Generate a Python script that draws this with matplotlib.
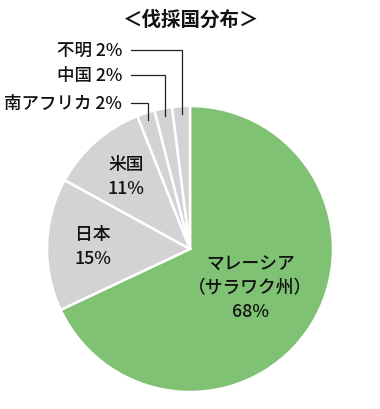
import numpy as np
import matplotlib
matplotlib.use('Agg')
import matplotlib.pyplot as plt

plt.rcParams['font.family'] = ['Noto Sans CJK JP', 'DejaVu Sans']

labels = ['マレーシア\n（サラワク州）', '日本', '米国', '南アフリカ', '中国', '不明']
shares = [68, 15, 11, 2, 2, 2]
colors = ['#80C273', '#D3D3D3', '#D3D3D3', '#D3D3D3', '#D3D3D3', '#D3D3D3']

W, H = 380, 410
cx, cy, r = 190, H - 250, 143

fig = plt.figure(figsize=(W / 100, H / 100), dpi=100)
ax = fig.add_axes([0, 0, 1, 1])
wedges, _ = ax.pie(shares, colors=colors, startangle=90, counterclock=False,
                   center=(cx, cy), radius=r,
                   wedgeprops=dict(edgecolor='white', linewidth=1.8))
ax.set_xlim(0, W)
ax.set_ylim(0, H)
ax.set_aspect('equal')
ax.axis('off')

fs = 12.8
# labels inside big slices
inside = {0: 0.50, 1: 0.68, 2: 0.68}
for i, frac in inside.items():
    w = wedges[i]
    th = np.deg2rad((w.theta1 + w.theta2) / 2)
    x = cx + frac * r * np.cos(th)
    y = cy + frac * r * np.sin(th)
    ax.text(x, y, labels[i] + '\n%d%%' % shares[i], ha='center', va='center',
            fontsize=fs, linespacing=1.4, color='#111111', fontweight='medium')

# small slices with leader lines
text_y = [H - 104, H - 76, H - 51]
for k, i in enumerate([3, 4, 5]):
    w = wedges[i]
    th = np.deg2rad((w.theta1 + w.theta2) / 2)
    tx = cx + 0.945 * r * np.cos(th)
    ty = cy + 0.945 * r * np.sin(th)
    ly = text_y[k]
    ax.plot([131, tx, tx], [ly, ly, ty], color='#222222', lw=0.9,
            solid_joinstyle='miter')
    ax.text(122, ly, '%s %d%%' % (labels[i], shares[i]), ha='right',
            va='center', fontsize=12.6, color='#111111', fontweight='medium')

ax.text(190, H - 20, '＜伐採国分布＞', ha='center', va='center',
        fontsize=14, fontweight='bold', color='#111111')

fig.savefig('out.png', dpi=100)
